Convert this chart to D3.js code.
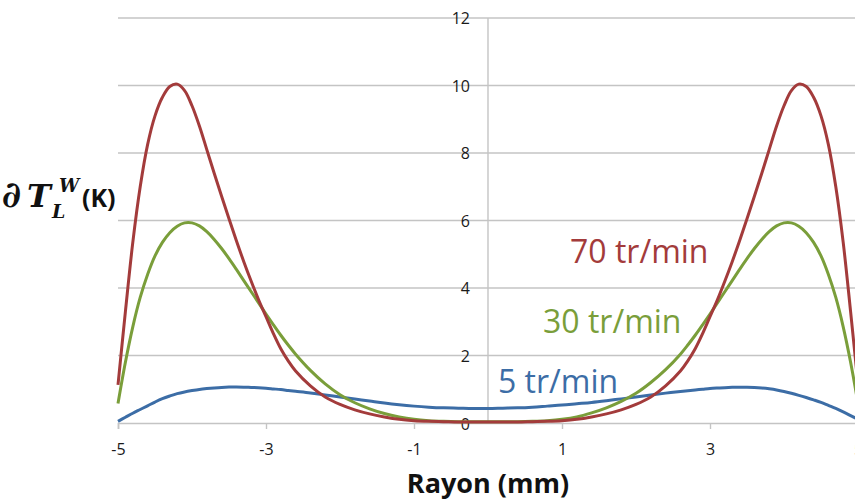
<!DOCTYPE html>
<html><head><meta charset="utf-8">
<script src="https://cdn.jsdelivr.net/npm/d3@7"></script>
<style>body{margin:0;background:#fff}svg{display:block}</style>
</head><body><svg id="c" width="855" height="502"></svg>
<script>
const xs = [-5.0, -4.9, -4.8, -4.7, -4.6, -4.5, -4.4, -4.3, -4.2, -4.1, -4.0, -3.9, -3.8, -3.7, -3.6, -3.5, -3.4, -3.3, -3.2, -3.1, -3.0, -2.9, -2.8, -2.7, -2.6,
            -2.4, -2.2, -2.0, -1.8, -1.6, -1.4, -1.2, -1.0, -0.8, -0.6, -0.4, -0.2, 0, 0.2, 0.4, 0.6, 0.8, 1.0, 1.2, 1.4, 1.6, 1.8, 2.0, 2.2, 2.4,
            2.6, 2.7, 2.8, 2.9, 3.0, 3.1, 3.2, 3.3, 3.4, 3.5, 3.6, 3.7, 3.8, 3.9, 4.0, 4.1, 4.2, 4.3, 4.4, 4.5, 4.6, 4.7, 4.8, 4.9, 5.0];
const rpm70 = [1.13, 3.3, 5.35, 7.0, 8.25, 9.1, 9.65, 9.97, 10.04, 9.85, 9.4, 8.8, 8.1, 7.4, 6.72, 6.05, 5.4, 4.78, 4.2, 3.65, 3.15, 2.65, 2.2, 1.84, 1.54,
               1.1, 0.77, 0.55, 0.39, 0.27, 0.18, 0.11, 0.07, 0.05, 0.04, 0.03, 0.03, 0.03, 0.03, 0.03, 0.04, 0.05, 0.07, 0.11, 0.18, 0.27, 0.39, 0.55, 0.77, 1.1,
               1.54, 1.84, 2.2, 2.65, 3.15, 3.65, 4.2, 4.78, 5.4, 6.05, 6.72, 7.4, 8.1, 8.8, 9.4, 9.85, 10.04, 9.97, 9.65, 9.1, 8.25, 7.0, 5.35, 3.3, 1.13];
const rpm30 = [0.58, 1.8, 2.85, 3.72, 4.4, 4.95, 5.35, 5.64, 5.83, 5.93, 5.93, 5.84, 5.67, 5.44, 5.17, 4.87, 4.55, 4.22, 3.89, 3.56, 3.23, 2.91, 2.6, 2.31, 2.04,
               1.56, 1.16, 0.84, 0.6, 0.42, 0.28, 0.18, 0.11, 0.07, 0.05, 0.04, 0.04, 0.04, 0.04, 0.04, 0.05, 0.07, 0.11, 0.18, 0.3, 0.45, 0.64, 0.88, 1.2, 1.58,
               2.04, 2.31, 2.6, 2.91, 3.23, 3.56, 3.89, 4.22, 4.55, 4.87, 5.17, 5.44, 5.67, 5.84, 5.93, 5.93, 5.83, 5.64, 5.35, 4.95, 4.4, 3.72, 2.85, 1.8, 0.58];
const rpm5 = [0.05, 0.17, 0.29, 0.4, 0.51, 0.62, 0.72, 0.8, 0.87, 0.92, 0.96, 0.995, 1.02, 1.04, 1.055, 1.063, 1.065, 1.062, 1.055, 1.045, 1.03, 1.01, 0.99, 0.965, 0.94,
              0.89, 0.83, 0.77, 0.71, 0.65, 0.59, 0.54, 0.5, 0.47, 0.45, 0.44, 0.43, 0.43, 0.44, 0.45, 0.47, 0.5, 0.53, 0.57, 0.61, 0.66, 0.715, 0.77, 0.83, 0.885,
              0.935, 0.958, 0.98, 1.0, 1.02, 1.035, 1.048, 1.057, 1.06, 1.058, 1.05, 1.035, 1.012, 0.98, 0.935, 0.88, 0.82, 0.755, 0.685, 0.61, 0.52, 0.43, 0.33, 0.22, 0.11];
const seriesNames = ["70 tr/min", "30 tr/min", "5 tr/min"];
const seriesColors = ["#A33B3B", "#7A9E3A", "#3C6DA6"];
const xTicks = [-5, -3, -1, 1, 3, 5];
const yTicks = [0, 2, 4, 6, 8, 10, 12];

const svg = d3.select("#c");
const x = d3.scaleLinear().domain([-5, 5]).range([118, 858]);
const y = d3.scaleLinear().domain([0, 12]).range([423, 18]);
const font = "'Open Sans', 'Liberation Sans', sans-serif";

// horizontal gridlines
svg.append("g").selectAll("line").data(yTicks.filter(d => d > 0)).join("line")
  .attr("x1", x(-5)).attr("x2", 855).attr("y1", d => y(d)).attr("y2", d => y(d))
  .attr("stroke", "#c4c4c4").attr("stroke-width", 1.4);

// vertical axis at x=0
svg.append("line").attr("x1", x(0)).attr("x2", x(0)).attr("y1", y(12)).attr("y2", y(0))
  .attr("stroke", "#c4c4c4").attr("stroke-width", 1.4);

// x axis
const xAxis = svg.append("g").attr("transform", `translate(0,${y(0)})`)
  .call(d3.axisBottom(x).tickValues(xTicks).tickSize(6).tickPadding(15).tickFormat(d => String(d)));
xAxis.select(".domain").attr("stroke", "#c4c4c4").attr("stroke-width", 1.6);
xAxis.selectAll(".tick line").attr("stroke", "#c4c4c4").attr("stroke-width", 1.4);
xAxis.selectAll(".tick text").attr("font-family", font).attr("font-size", 16).attr("fill", "#1a1a1a");

// y tick labels
svg.append("g").selectAll("text").data(yTicks).join("text")
  .attr("x", x(0) - 18).attr("y", d => y(d) + (d === 0 ? 7 : 6))
  .attr("text-anchor", "end").attr("font-family", font).attr("font-size", 16).attr("fill", "#1a1a1a")
  .text(d => d);

// lines
const line = d3.line().x((d, i) => x(xs[i])).y(d => y(d)).curve(d3.curveCatmullRom.alpha(0.5));
[rpm5, rpm30, rpm70].forEach((s, k) => {
  svg.append("path").datum(s).attr("d", line).attr("fill", "none")
    .attr("stroke", seriesColors[2 - k]).attr("stroke-width", 3)
    .attr("stroke-linejoin", "round");
});

// annotations
const annPos = [[570, 263], [543, 333], [498, 393]];
seriesNames.forEach((n, i) => {
  svg.append("text").attr("x", annPos[i][0]).attr("y", annPos[i][1])
    .attr("font-family", font).attr("font-size", 32).attr("fill", seriesColors[i]).text(n);
});

// axis title
svg.append("text").attr("x", x(0)).attr("y", 493).attr("text-anchor", "middle")
  .attr("font-family", font).attr("font-size", 27).attr("font-weight", "bold").attr("fill", "#111")
  .text("Rayon (mm)");

// y title: ∂T_L^W (K)
const serif = "'DejaVu Serif', serif";
const yt = svg.append("g").attr("fill", "#111");
yt.append("text").attr("x", 2).attr("y", 207).attr("font-family", serif)
  .attr("font-style", "italic").attr("font-weight", "bold").attr("font-size", 36).text("∂");
yt.append("text").attr("x", 27).attr("y", 207).attr("font-family", serif)
  .attr("font-style", "italic").attr("font-weight", "bold").attr("font-size", 32).text("T");
yt.append("text").attr("x", 59).attr("y", 192).attr("font-family", serif)
  .attr("font-style", "italic").attr("font-weight", "bold").attr("font-size", 18).text("W");
yt.append("text").attr("x", 52).attr("y", 218).attr("font-family", serif)
  .attr("font-style", "italic").attr("font-weight", "bold").attr("font-size", 19).text("L");
yt.append("text").attr("x", 82).attr("y", 207).attr("font-family", font)
  .attr("font-weight", "bold").attr("font-size", 25).text("(K)");
</script></body></html>
